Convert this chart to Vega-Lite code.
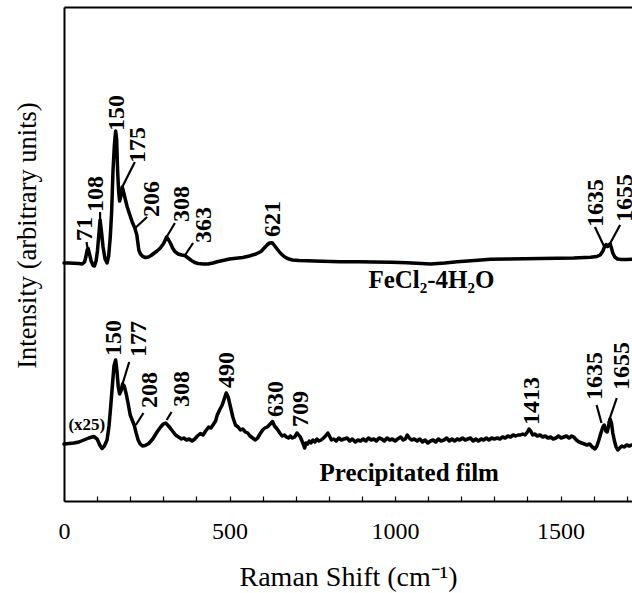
{
  "$schema": "https://vega.github.io/schema/vega-lite/v6.json",
  "width": 568,
  "height": 494,
  "autosize": {"type": "none"},
  "padding": {"left": 64, "top": 7, "right": 0, "bottom": 92},
  "background": "white",
  "config": {"view": {"stroke": null}, "font": "Liberation Serif"},
  "datasets": {
    "upper": [
      {"x":0,"y":238},{"x":15,"y":238},{"x":30,"y":237.7},{"x":45,"y":237.5},{"x":55,"y":237},{"x":62,"y":239},{"x":66,"y":244},{"x":70,"y":251},{"x":73,"y":252.5},{"x":77,"y":247},{"x":82,"y":240},{"x":88,"y":235.5},{"x":92,"y":235},{"x":97,"y":240},{"x":101,"y":250},{"x":105,"y":265},{"x":109,"y":281},{"x":113,"y":270},{"x":118,"y":254},{"x":124,"y":242},{"x":130,"y":238},{"x":135,"y":245},{"x":140,"y":265},{"x":144,"y":290},{"x":148,"y":330},{"x":152,"y":355},{"x":156,"y":370},{"x":159,"y":362},{"x":162,"y":330},{"x":165,"y":310},{"x":168,"y":300},{"x":172,"y":305},{"x":176,"y":314},{"x":180,"y":309},{"x":185,"y":302},{"x":191,"y":294},{"x":198,"y":287},{"x":206,"y":279},{"x":214,"y":273},{"x":220,"y":266},{"x":226,"y":251},{"x":231,"y":247},{"x":238,"y":244.5},{"x":246,"y":243.5},{"x":255,"y":244},{"x":263,"y":245.5},{"x":271,"y":247.5},{"x":281,"y":250},{"x":291,"y":253},{"x":300,"y":257},{"x":306,"y":261},{"x":310,"y":264},{"x":316,"y":261},{"x":322,"y":257.5},{"x":328,"y":253},{"x":335,"y":249.5},{"x":345,"y":247},{"x":355,"y":246},{"x":365,"y":245.5},{"x":375,"y":243},{"x":385,"y":240.5},{"x":395,"y":238.5},{"x":405,"y":237.5},{"x":420,"y":237},{"x":435,"y":237},{"x":450,"y":238},{"x":463,"y":239.3},{"x":480,"y":240.5},{"x":500,"y":242},{"x":520,"y":242.7},{"x":540,"y":243.5},{"x":560,"y":245},{"x":580,"y":247},{"x":595,"y":249.5},{"x":605,"y":253},{"x":615,"y":256.5},{"x":621,"y":258},{"x":629,"y":258.3},{"x":637,"y":255},{"x":645,"y":251.5},{"x":655,"y":247.5},{"x":665,"y":244.5},{"x":675,"y":242.5},{"x":690,"y":241},{"x":710,"y":240.5},{"x":735,"y":240.3},{"x":780,"y":239.7},{"x":835,"y":239.3},{"x":890,"y":239.2},{"x":936,"y":239},{"x":990,"y":238.7},{"x":1036,"y":238.3},{"x":1080,"y":237.5},{"x":1107,"y":237},{"x":1150,"y":238},{"x":1188,"y":239.3},{"x":1240,"y":240.5},{"x":1289,"y":241.7},{"x":1340,"y":242},{"x":1390,"y":242.3},{"x":1440,"y":242.5},{"x":1490,"y":242.7},{"x":1540,"y":243},{"x":1591,"y":243.7},{"x":1610,"y":244.5},{"x":1620,"y":246},{"x":1628,"y":250},{"x":1634,"y":255},{"x":1638,"y":256.5},{"x":1642,"y":254.5},{"x":1646,"y":256},{"x":1650,"y":257},{"x":1654,"y":253},{"x":1658,"y":248},{"x":1664,"y":244},{"x":1672,"y":242},{"x":1685,"y":241.5},{"x":1700,"y":241.5},{"x":1716,"y":241.8}
    ],
    "lower": [
      {"x":0,"y":57},{"x":15,"y":57.5},{"x":30,"y":58},{"x":45,"y":59},{"x":60,"y":61},{"x":75,"y":63},{"x":90,"y":64.5},{"x":100,"y":62},{"x":108,"y":56},{"x":115,"y":52.5},{"x":122,"y":55},{"x":130,"y":61},{"x":136,"y":75},{"x":141,"y":94},{"x":146,"y":115},{"x":151,"y":135},{"x":156,"y":141},{"x":160,"y":130},{"x":164,"y":114},{"x":168,"y":107},{"x":172,"y":110},{"x":177,"y":117},{"x":182,"y":115},{"x":188,"y":107},{"x":194,"y":97},{"x":200,"y":86},{"x":206,"y":81},{"x":212,"y":76},{"x":218,"y":68},{"x":224,"y":61},{"x":230,"y":57},{"x":237,"y":55},{"x":245,"y":55.5},{"x":256,"y":57.5},{"x":268,"y":62},{"x":281,"y":69},{"x":292,"y":74},{"x":300,"y":77},{"x":307,"y":78},{"x":313,"y":76},{"x":322,"y":72.5},{"x":330,"y":69},{"x":337,"y":66},{"x":346,"y":64},{"x":355,"y":62},{"x":362,"y":63},{"x":370,"y":61},{"x":378,"y":62},{"x":387,"y":60},{"x":395,"y":62},{"x":403,"y":65},{"x":412,"y":67.5},{"x":420,"y":66},{"x":428,"y":70},{"x":437,"y":74},{"x":444,"y":73},{"x":452,"y":77},{"x":458,"y":80},{"x":463,"y":86},{"x":470,"y":91},{"x":478,"y":96},{"x":484,"y":102},{"x":490,"y":108},{"x":496,"y":104},{"x":503,"y":94},{"x":510,"y":84},{"x":518,"y":76},{"x":526,"y":74},{"x":533,"y":71},{"x":540,"y":72},{"x":548,"y":69},{"x":555,"y":68},{"x":562,"y":65},{"x":570,"y":63},{"x":578,"y":61},{"x":585,"y":63},{"x":592,"y":67},{"x":600,"y":71},{"x":607,"y":73},{"x":614,"y":74},{"x":620,"y":76},{"x":626,"y":78},{"x":630,"y":79.5},{"x":636,"y":75},{"x":644,"y":72},{"x":652,"y":68},{"x":659,"y":65},{"x":666,"y":66},{"x":672,"y":64},{"x":678,"y":63},{"x":684,"y":65},{"x":690,"y":63},{"x":697,"y":64},{"x":704,"y":68},{"x":709,"y":66},{"x":714,"y":64},{"x":719,"y":60},{"x":724,"y":56},{"x":727,"y":53},{"x":731,"y":58},{"x":736,"y":57},{"x":741,"y":60},{"x":746,"y":58},{"x":752,"y":61},{"x":758,"y":59},{"x":764,"y":62},{"x":770,"y":60},{"x":777,"y":61},{"x":784,"y":63},{"x":790,"y":65},{"x":797,"y":68},{"x":802,"y":65},{"x":808,"y":61},{"x":815,"y":62},{"x":822,"y":60},{"x":830,"y":63},{"x":838,"y":61},{"x":846,"y":62},{"x":855,"y":63},{"x":863,"y":60},{"x":871,"y":62},{"x":880,"y":59},{"x":888,"y":61},{"x":896,"y":60},{"x":904,"y":62},{"x":912,"y":60},{"x":920,"y":63},{"x":928,"y":61},{"x":936,"y":62},{"x":944,"y":60},{"x":952,"y":63},{"x":960,"y":62},{"x":968,"y":60},{"x":976,"y":63},{"x":984,"y":61},{"x":992,"y":62},{"x":1000,"y":60},{"x":1008,"y":62},{"x":1017,"y":64},{"x":1025,"y":61},{"x":1031,"y":62},{"x":1037,"y":66},{"x":1043,"y":63},{"x":1050,"y":61},{"x":1058,"y":62},{"x":1067,"y":60},{"x":1075,"y":62},{"x":1083,"y":59},{"x":1091,"y":61},{"x":1099,"y":58},{"x":1107,"y":60},{"x":1115,"y":61},{"x":1123,"y":59},{"x":1131,"y":62},{"x":1139,"y":60},{"x":1148,"y":61},{"x":1156,"y":63},{"x":1164,"y":60},{"x":1172,"y":62},{"x":1180,"y":60},{"x":1188,"y":62},{"x":1196,"y":61},{"x":1204,"y":63},{"x":1212,"y":61},{"x":1220,"y":62},{"x":1228,"y":63},{"x":1236,"y":60},{"x":1244,"y":62},{"x":1252,"y":60},{"x":1260,"y":62},{"x":1268,"y":61},{"x":1276,"y":63},{"x":1284,"y":61},{"x":1292,"y":63},{"x":1300,"y":62},{"x":1309,"y":63},{"x":1317,"y":62},{"x":1325,"y":64},{"x":1333,"y":63},{"x":1341,"y":65},{"x":1349,"y":64},{"x":1357,"y":66},{"x":1365,"y":65},{"x":1372,"y":66},{"x":1379,"y":66},{"x":1386,"y":67},{"x":1393,"y":66},{"x":1400,"y":69},{"x":1405,"y":72},{"x":1410,"y":70},{"x":1416,"y":66},{"x":1422,"y":67},{"x":1430,"y":65},{"x":1438,"y":66},{"x":1446,"y":64},{"x":1454,"y":65},{"x":1462,"y":63},{"x":1470,"y":64},{"x":1478,"y":62},{"x":1486,"y":63},{"x":1494,"y":65},{"x":1502,"y":63},{"x":1510,"y":64},{"x":1518,"y":65},{"x":1526,"y":63},{"x":1534,"y":65},{"x":1540,"y":64},{"x":1548,"y":61},{"x":1556,"y":59},{"x":1564,"y":58},{"x":1572,"y":57},{"x":1580,"y":56},{"x":1588,"y":57},{"x":1596,"y":54},{"x":1604,"y":52},{"x":1610,"y":55},{"x":1616,"y":61},{"x":1622,"y":68},{"x":1628,"y":74},{"x":1632,"y":76},{"x":1637,"y":70},{"x":1641,"y":69},{"x":1645,"y":75},{"x":1650,"y":82},{"x":1654,"y":78},{"x":1658,"y":68},{"x":1663,"y":60},{"x":1668,"y":54},{"x":1673,"y":51},{"x":1679,"y":53},{"x":1685,"y":55},{"x":1692,"y":54},{"x":1700,"y":56},{"x":1708,"y":55},{"x":1716,"y":56}
    ],
    "peaks": [
      {"x":62,"y":260,"t":"71"},{"x":98,"y":289,"t":"108"},{"x":160,"y":370,"t":"150"},{"x":224,"y":338,"t":"175"},{"x":267,"y":284,"t":"206"},{"x":356,"y":279,"t":"308"},{"x":424,"y":258,"t":"363"},{"x":631,"y":264,"t":"621"},{"x":1607,"y":274,"t":"1635"},{"x":1695,"y":279,"t":"1655"},
      {"x":152,"y":145,"t":"150"},{"x":228,"y":144,"t":"177"},{"x":260,"y":93,"t":"208"},{"x":356,"y":94,"t":"308"},{"x":491,"y":113,"t":"490"},{"x":640,"y":84,"t":"630"},{"x":716,"y":74,"t":"709"},{"x":1413,"y":76,"t":"1413"},{"x":1603,"y":101,"t":"1635"},{"x":1685,"y":111,"t":"1655"}
    ],
    "leaders": [
      {"x":68,"y":259,"x2":72,"y2":251},{"x":109,"y":289,"x2":109,"y2":279},{"x":214,"y":339,"x2":176,"y2":314},{"x":251,"y":284,"x2":215,"y2":273},{"x":335,"y":278,"x2":310,"y2":264},{"x":390,"y":258,"x2":366,"y2":246},{"x":1604,"y":274,"x2":1634,"y2":253},{"x":1680,"y":276,"x2":1644,"y2":254},
      {"x":197,"y":139,"x2":174,"y2":114},{"x":240,"y":88,"x2":217,"y2":76},{"x":325,"y":89,"x2":310,"y2":81},{"x":1609,"y":96,"x2":1624,"y2":78},{"x":1670,"y":103,"x2":1644,"y2":78}
    ],
    "scale": [{"x":69,"y":76,"t":"(x25)"}],
    "names": [{"x":1110,"y":213,"t":"FeCl₂-4H₂O"},{"x":1043,"y":20,"t":"Precipitated film"}]
  },
  "layer": [
    {
      "data": {"name": "upper"},
      "mark": {"type": "line", "color": "black", "strokeWidth": 3.5, "strokeJoin": "round", "strokeCap": "round"},
      "encoding": {
        "x": {"field": "x", "type": "quantitative", "scale": {"domain": [0, 1716], "nice": false, "zero": false},
          "axis": {"orient": "bottom", "values": [0,100,200,300,400,500,600,700,800,900,1000,1100,1200,1300,1400,1500,1600,1700],
            "labelExpr": "datum.value % 500 === 0 ? datum.label : ''", "format": "d",
            "tickSize": -5, "tickColor": "black", "tickWidth": 1.2,
            "domainColor": "black", "domainWidth": 2, "grid": false,
            "labelFont": "Liberation Serif", "labelFontSize": 24, "labelColor": "black", "labelPadding": 35, "labelBaseline": "middle",
            "labelFlush": false, "labelOverlap": false,
            "title": "Raman Shift (cm⁻¹)", "titleFont": "Liberation Serif", "titleFontSize": 28, "titleFontWeight": "normal", "titleColor": "black",
            "titleY": 84, "titleBaseline": "alphabetic"}},
        "y": {"field": "y", "type": "quantitative", "scale": {"domain": [0, 494], "nice": false, "zero": false},
          "axis": {"orient": "left", "title": "Intensity (arbitrary units)", "labels": false, "ticks": false, "grid": false,
            "domainColor": "black", "domainWidth": 2,
            "titleFont": "Liberation Serif", "titleFontSize": 26.5, "titleFontWeight": "normal", "titleColor": "black",
            "titleX": -37, "titleY": 228, "titleAngle": 270, "titleBaseline": "middle", "titleAlign": "center"}}
      }
    },
    {
      "data": {"name": "lower"},
      "mark": {"type": "line", "color": "black", "strokeWidth": 3.5, "strokeJoin": "round", "strokeCap": "round"},
      "encoding": {
        "x": {"field": "x", "type": "quantitative",
          "axis": {"orient": "top", "labels": false, "ticks": false, "title": null, "grid": false, "domainColor": "black", "domainWidth": 2}},
        "y": {"field": "y", "type": "quantitative", "axis": null}
      }
    },
    {
      "data": {"name": "leaders"},
      "mark": {"type": "rule", "color": "black", "strokeWidth": 2.2},
      "encoding": {
        "x": {"field": "x", "type": "quantitative", "axis": null},
        "y": {"field": "y", "type": "quantitative", "axis": null},
        "x2": {"field": "x2"},
        "y2": {"field": "y2"}
      }
    },
    {
      "data": {"name": "peaks"},
      "mark": {"type": "text", "angle": 270, "align": "left", "baseline": "middle", "font": "Liberation Serif", "fontWeight": "bold", "fontSize": 24, "color": "black"},
      "encoding": {
        "x": {"field": "x", "type": "quantitative", "axis": null},
        "y": {"field": "y", "type": "quantitative", "axis": null},
        "text": {"field": "t", "type": "nominal"}
      }
    },
    {
      "data": {"name": "scale"},
      "mark": {"type": "text", "align": "center", "baseline": "middle", "font": "Liberation Serif", "fontWeight": "bold", "fontSize": 17, "color": "black"},
      "encoding": {
        "x": {"field": "x", "type": "quantitative", "axis": null},
        "y": {"field": "y", "type": "quantitative", "axis": null},
        "text": {"field": "t", "type": "nominal"}
      }
    },
    {
      "data": {"name": "names"},
      "mark": {"type": "text", "align": "center", "baseline": "alphabetic", "font": "Liberation Serif", "fontWeight": "bold", "fontSize": 25, "color": "black"},
      "encoding": {
        "x": {"field": "x", "type": "quantitative", "axis": null},
        "y": {"field": "y", "type": "quantitative", "axis": null},
        "text": {"field": "t", "type": "nominal"}
      }
    }
  ],
  "resolve": {"axis": {"x": "independent", "y": "independent"}}
}
